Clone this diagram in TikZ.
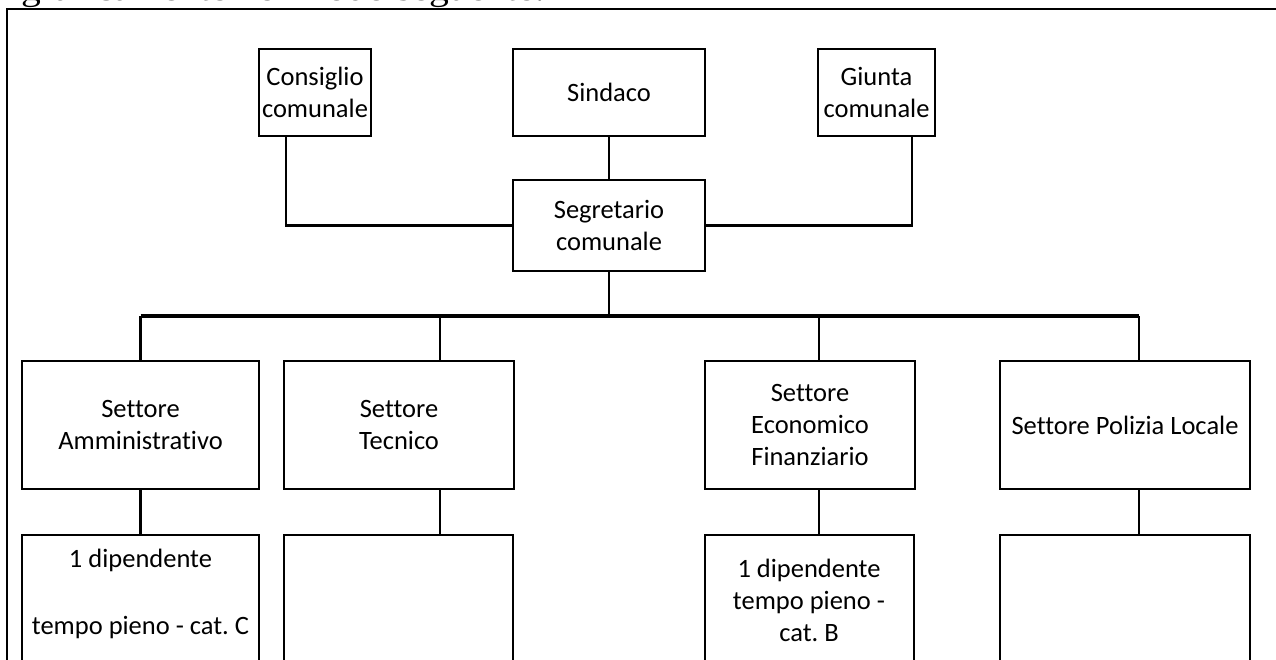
\documentclass[tikz,border=0pt]{standalone}
\usepackage{fontspec}
\setmainfont{Carlito}[Ligatures=CommonOff]
\newfontfamily\docserif{Liberation Serif}[FakeStretch=1.2]
\frenchspacing
\begin{document}
\begin{tikzpicture}[x=1pt,y=-1pt,
  box/.style={draw=black, line width=1.6pt, inner sep=0pt, align=center,
    font=\fontsize{26.5}{32}\selectfont},
  lbl/.style={inner sep=0pt, align=center, font=\fontsize{26.5}{32}\selectfont},
  conn/.style={line width=2.2pt},
  thinconn/.style={line width=1.1pt},
  busline/.style={line width=3.2pt},
  frame/.style={line width=2.1pt}]
\useasboundingbox (0,0) rectangle (1276,659);
\clip (0,0) rectangle (1276,659);
\fill[white] (0,0) rectangle (1276,659);

% cropped line of text above the frame
\node[anchor=base west, inner sep=0pt, font=\docserif\fontsize{33}{40}\selectfont] (intro) at (21,0) {graficamente nel modo seguente.};

% frame
\coordinate (fr) at (1290,9);
\coordinate (ftl) at (7,9);
\coordinate (fbl) at (7,700);
\draw[frame] (fr) -- (ftl) -- (fbl);

% top row
\node[box, minimum width=112pt, minimum height=87pt] (consiglio) at (315,92.5) {Consiglio\\comunale};
\node[box, minimum width=192pt, minimum height=87pt] (sindaco) at (609,92.5) {Sindaco};
\node[box, minimum width=117pt, minimum height=87pt] (giunta) at (876.5,92.5) {Giunta\\comunale};
\node[box, minimum width=192pt, minimum height=91pt] (segretario) at (609,225.5) {Segretario\\comunale};

% sectors
\node[box, line width=2pt, minimum width=237pt, minimum height=128pt] (amm) at (140.5,425) {Settore\\Amministrativo};
\node[box, minimum width=230pt, minimum height=128pt] (tec) at (399,425) {Settore\\Tecnico};
\node[box, minimum width=210pt, minimum height=128pt] (econ) at (810,425) {Settore\\Economico\\Finanziario};
\node[box, minimum width=250pt, minimum height=128pt] (pol) at (1125,425) {Settore Polizia Locale};

% staff boxes (cut off at the bottom)
\node[box, line width=2pt, minimum width=237pt, minimum height=165pt] (amm2) at (140.5,617.5) {};
\node[box, line width=2pt, minimum width=229pt, minimum height=165pt] (tec2) at (398.5,617.5) {};
\node[box, minimum width=209pt, minimum height=165pt] (econ2) at (809.5,617.5) {};
\node[box, minimum width=250pt, minimum height=165pt] (pol2) at (1125,617.5) {};

\node[lbl, anchor=north] (amm2t) at (140.5,549) {1 dipendente\\[35pt]tempo pieno - cat. C};
\node[lbl, anchor=north] (econ2t) at (809,559) {1 dipendente\\tempo pieno -\\cat. B};

% connectors top
\coordinate (cx) at (286,0);
\coordinate (gx) at (912,0);
\draw[conn] (sindaco) -- (segretario);
\draw[conn] (consiglio.south -| cx) |- (segretario.west);
\draw[conn] (giunta.south -| gx) |- (segretario.east);

% bus
\coordinate (bus) at (609,316);
\coordinate (d1) at (140.5,316);
\coordinate (d2) at (440,316);
\coordinate (d3) at (819,316);
\coordinate (d4) at (1139,316);
\draw[conn] (segretario.south) -- (bus);
\draw[busline] (d1) -- (d4);
\draw[conn] (d1) -- (d1 |- amm.north);
\draw[conn] (d2) -- (d2 |- tec.north);
\draw[conn] (d3) -- (d3 |- econ.north);
\draw[conn] (d4) -- (d4 |- pol.north);

% sector to staff
\draw[conn] (amm.south -| d1) -- (amm2.north -| d1);
\draw[conn] (tec.south -| d2) -- (tec2.north -| d2);
\draw[conn] (econ.south -| d3) -- (econ2.north -| d3);
\draw[thinconn] (pol.south -| d4) -- (pol2.north -| d4);
\end{tikzpicture}
\end{document}
